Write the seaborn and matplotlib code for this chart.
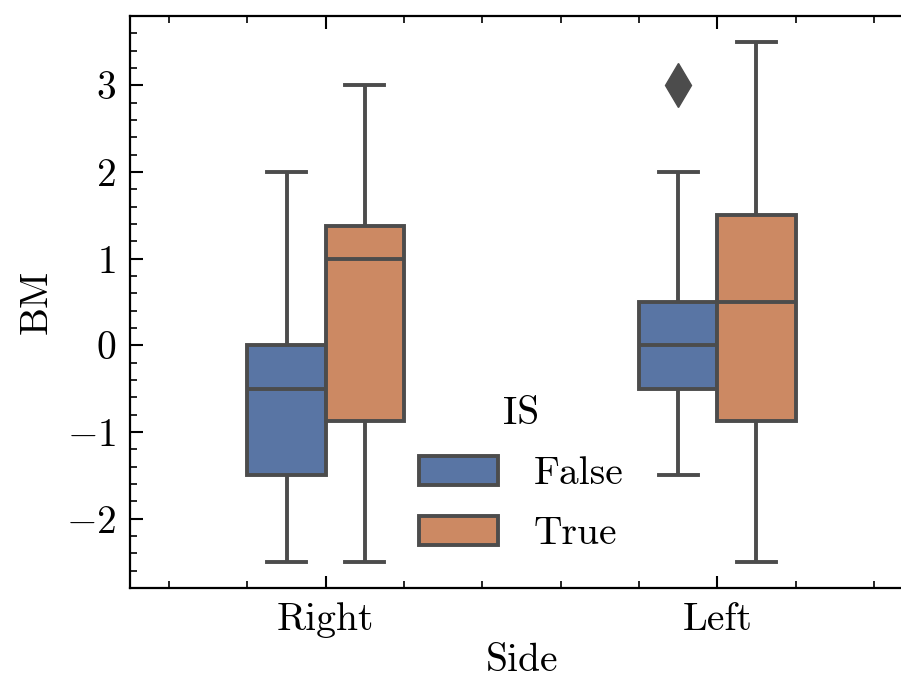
import matplotlib
matplotlib.use("Agg")
import matplotlib.pyplot as plt
from matplotlib.ticker import AutoMinorLocator
import seaborn as sns
import pandas as pd

# ---- data ----
right_false = [-2.5, -1.5, -1.5, -0.5, 0, 0, 2]
right_true = [-2.5, -2, -1, -0.5, 1, 1, 1, 1.5, 2, 3]
left_false = [-1.5, -1, -0.5, 0, 0, 0.5, 0.5, 2, 3]
left_true = [-2.5, -2, -1, -0.5, 0.5, 0.5, 1.5, 1.5, 2.5, 3.5]
sides = ["Right", "Left"]
hue_levels = [False, True]

rows = []
for side, is_val, vals in [("Right", False, right_false), ("Right", True, right_true),
                           ("Left", False, left_false), ("Left", True, left_true)]:
    for v in vals:
        rows.append({"Side": side, "IS": is_val, "BM": v})
df = pd.DataFrame(rows)

# ---- style ----
FS = 28.5
plt.rcParams.update({
    "font.family": "serif",
    "font.serif": ["cmr10"],
    "mathtext.fontset": "cm",
    "axes.formatter.use_mathtext": True,
    "font.size": FS,
    "axes.linewidth": 1.6,
    "xtick.direction": "in",
    "ytick.direction": "in",
    "xtick.top": True,
    "ytick.right": True,
    "xtick.major.size": 9,
    "ytick.major.size": 9,
    "xtick.minor.size": 5,
    "ytick.minor.size": 5,
    "xtick.major.width": 1.5,
    "ytick.major.width": 1.5,
    "xtick.minor.width": 1.2,
    "ytick.minor.width": 1.2,
    "xtick.major.pad": 10,
    "ytick.major.pad": 10,
    "legend.frameon": False,
})

fig = plt.figure(figsize=(9.01, 6.82), dpi=100)
ax = fig.add_axes([130 / 901, 1 - 588 / 682, (913 - 130) / 901, (588 - 16) / 682])

sns.boxplot(data=df, x="Side", y="BM", hue="IS", order=sides, hue_order=hue_levels,
            palette="deep", width=0.4, gap=0, linewidth=2.8, ax=ax,
            flierprops=dict(marker="d", markersize=22, markerfacecolor="#4c4c4c",
                            markeredgecolor="#4c4c4c"))

ax.set_xlim(-0.5, 1.5)
ax.xaxis.set_minor_locator(AutoMinorLocator(5))
ax.yaxis.set_minor_locator(AutoMinorLocator(5))
ax.set_xlabel("Side", labelpad=4)
ax.set_ylabel("BM", labelpad=8)

leg = ax.legend(title="IS", loc="lower center", bbox_to_anchor=(0.5, 0.0),
                fontsize=FS, title_fontsize=FS, handlelength=2.0, handleheight=0.75,
                labelspacing=0.6, handletextpad=0.9)

fig.savefig("out.png", dpi=100)
